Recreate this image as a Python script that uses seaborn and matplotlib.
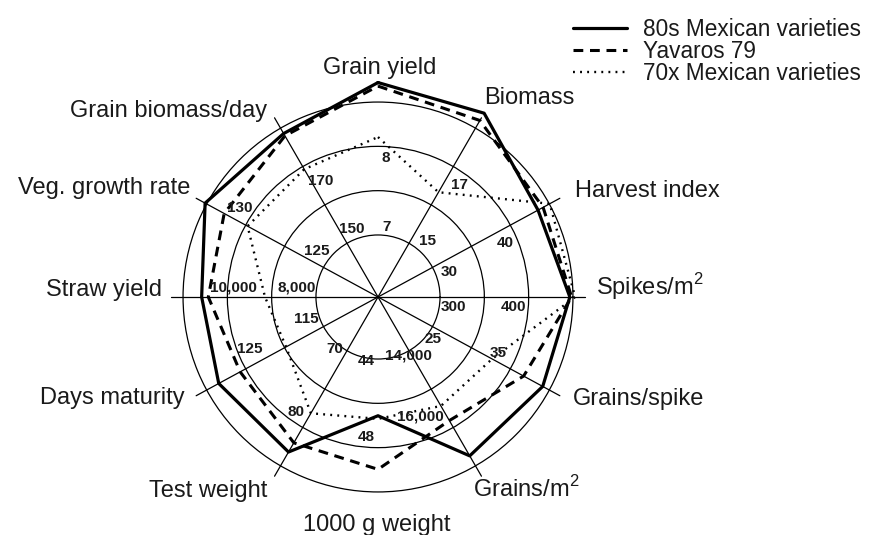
import numpy as np
import matplotlib
matplotlib.use("Agg")
import matplotlib.pyplot as plt
import seaborn as sns

# Axis names, clockwise from the top, and their directions (degrees)
axis_names = ['Grain yield', 'Biomass', 'Harvest index', 'Spikes/m$^2$', 'Grains/spike',
              'Grains/m$^2$', '1000 g weight', 'Test weight', 'Days maturity', 'Straw yield',
              'Veg. growth rate', 'Grain biomass/day']
axis_angles = [90, 60, 28.5, 0, -28.5, -60, -90, -120, -151.5, 180, 151.5, 120]

# Radial position on the ring scale (rings at 1, 2, 3, 4)
mex80 = [4.44, 4.39, 3.71, 3.93, 3.83, 3.74, 2.28, 3.64, 3.69, 3.58, 4.04, 3.86]
yavaros = [4.36, 4.20, 3.84, 3.97, 3.34, 2.82, 3.49, 3.40, 3.14, 3.43, 3.55, 3.80]
mex70 = [3.21, 2.33, 4.01, 4.05, 2.53, 2.44, 2.35, 2.63, 1.96, 2.15, 2.95, 2.93]

series_names = ['80s Mexican varieties', 'Yavaros 79', '70x Mexican varieties']

# Scale labels printed along the axes
scale_labels = ['7', '8', '150', '170', '15', '17', '30', '40', '300', '400', '25', '35',
                '14,000', '16,000', '44', '48', '70', '80', '115', '125', '8,000', '10,000',
                '125', '130']

sns.set_style('white')
plt.rcParams['font.family'] = ['Liberation Sans', 'DejaVu Sans']
plt.rcParams['mathtext.fontset'] = 'custom'
plt.rcParams['mathtext.rm'] = 'Liberation Sans'
plt.rcParams['text.color'] = '#1a1a1a'

W, H = 876, 535
fig = plt.figure(figsize=(W / 100, H / 100), dpi=100)

# polar axes centred at (378, 297) px, radius 230 px
cx, cy, R = 378, 297, 230.4
ax = fig.add_axes([(cx - R) / W, (H - cy - R) / H, 2 * R / W, 2 * R / H], projection='polar')

theta = np.deg2rad(axis_angles + axis_angles[:1])

styles = ['-', (0, (3.2, 2.2)), (0, (0.8, 2.2))]
widths = [2.3, 2.2, 1.7]
for name, vals, ls, lw in zip(series_names, [mex80, yavaros, mex70], styles, widths):
    sns.lineplot(x=theta, y=vals + vals[:1], sort=False, estimator=None, color='black',
                 linestyle=ls, linewidth=lw, label=name, ax=ax)

# spokes (no vertical one)
for a in axis_angles:
    if abs(a) != 90:
        ax.plot([np.deg2rad(a)] * 2, [-0.4, 4.27], color='black', lw=0.9, zorder=1)

ax.set_ylim(-0.4, 4.8)
ax.set_yticks([1, 2, 3, 4])
ax.set_yticklabels([])
ax.set_xticks([])
ax.yaxis.grid(True, color='black', linewidth=0.9)
ax.xaxis.grid(False)
ax.spines['polar'].set_visible(False)
ax.set_xlabel('')
ax.set_ylabel('')

# axis titles: (x, baseline y, ha) in pixels
name_pos = [(380, 74, 'center'), (529, 104, 'center'), (575, 197, 'left'), (596, 295, 'left'),
            (573, 405, 'left'), (526, 497, 'center'), (377, 531, 'center'), (267, 497, 'right'),
            (185, 404, 'right'), (162, 296, 'right'), (190, 194, 'right'), (267, 117, 'right')]
for name, (x, y, ha) in zip(axis_names, name_pos):
    fig.text(x / W, 1 - y / H, name, ha=ha, va='baseline', fontsize=17)

label_pos = [(386.7, 226.7), (385.7, 158.3), (351.7, 229.3), (321, 180.7), (427.3, 241),
             (459.3, 185), (449.3, 271.7), (505, 243.3), (453.3, 306.7), (513.3, 307.3),
             (433.3, 339.3), (498.3, 352.7), (408.3, 355), (420.7, 416.7), (366.7, 361),
             (366.7, 437.3), (335, 349), (296, 411.7), (306, 319.3), (250, 349.3),
             (296.7, 287.3), (233.3, 287.3), (316.7, 250.7), (240, 208.3)]
for txt, (x, y) in zip(scale_labels, label_pos):
    fig.text(x / W, 1 - y / H, txt, ha='center', va='center', fontsize=11, fontweight='bold')

ax.legend(loc='upper left', bbox_to_anchor=(573 / W, 1 - 18 / H), bbox_transform=fig.transFigure,
          frameon=False, fontsize=16.3, handlelength=2.4, handletextpad=0.7,
          labelspacing=-0.04, borderpad=0, borderaxespad=0)

fig.savefig('out.png', dpi=100)
